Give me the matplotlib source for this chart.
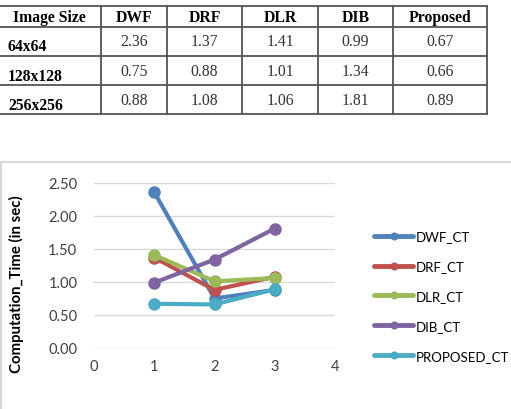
import numpy as np
import matplotlib
matplotlib.use('Agg')
import matplotlib.pyplot as plt

# table data
col_names = ['Image Size', 'DWF', 'DRF', 'DLR', 'DIB', 'Proposed']
row_names = ['64x64', '128x128', '256x256']
dwf = [2.36, 0.75, 0.88]
drf = [1.37, 0.88, 1.08]
dlr = [1.41, 1.01, 1.06]
dib = [0.99, 1.34, 1.81]
proposed = [0.67, 0.66, 0.89]

# chart data
x_vals = [1, 2, 3]
series_names = ['DWF_CT', 'DRF_CT', 'DLR_CT', 'DIB_CT', 'PROPOSED_CT']
series_vals = [dwf, drf, dlr, dib, proposed]
colors = ['#4F81BD', '#C0504D', '#9BBB59', '#8064A2', '#4BACC6']

W, H = 511, 410
fig = plt.figure(figsize=(W / 100, H / 100), dpi=100)

# background axes in pixel coords for the table and chart frame
bg = fig.add_axes([0, 0, 1, 1])
bg.set_xlim(0, W)
bg.set_ylim(H, 0)
bg.axis('off')

# table grid
h_lines = [7, 28, 57, 86, 115]
v_lines = [101, 167, 242, 318, 393, 487]
for y in h_lines:
    bg.plot([0, 487], [y, y], color='#555555', lw=1.3)
for x in v_lines:
    bg.plot([x, x], [7, 115], color='#555555', lw=1.3)

serif = 'Liberation Serif'
col_centers = [49, 134, 204.5, 280, 355.5, 440]
for cx, name in zip(col_centers, col_names):
    bg.text(cx, 18, name, ha='center', va='center', family=serif,
            fontweight='bold', fontsize=11.3)

table_cols = [dwf, drf, dlr, dib, proposed]
row_label_y = [47, 77, 106]
row_value_y = [42, 72, 101]
for i, rname in enumerate(row_names):
    bg.text(8, row_label_y[i], rname, ha='left', va='center', family=serif,
            fontweight='bold', fontsize=11.3)
    for j, col in enumerate(table_cols):
        bg.text(col_centers[j + 1], row_value_y[i], '%.2f' % col[i],
                ha='center', va='center', family=serif, fontsize=11.3,
                color='#333333')

# chart frame
bg.plot([0, W], [163, 163], color='#D9D9D9', lw=1.5)
bg.plot([0.8, 0.8], [163, H], color='#D9D9D9', lw=1.5)

# line chart
ax = fig.add_axes([94 / W, 1 - 349 / H, (335 - 94) / W, (349 - 184) / H])
for name, vals, c in zip(series_names, series_vals, colors):
    ax.plot(x_vals, vals, color=c, lw=3, marker='o', markersize=8,
            label=name, solid_capstyle='round')

ax.set_xlim(0, 4)
ax.set_ylim(0, 2.5)
ax.set_xticks([0, 1, 2, 3, 4])
ax.set_yticks(np.arange(0, 2.51, 0.5))
ax.set_yticklabels(['%.2f' % v for v in np.arange(0, 2.51, 0.5)])
ax.grid(axis='y', color='#D9D9D9', lw=1)
ax.set_axisbelow(True)
for s in ax.spines.values():
    s.set_visible(False)
ax.tick_params(length=0, labelsize=10.5, colors='#404040')
ax.tick_params(axis='x', pad=8)
ax.tick_params(axis='y', pad=12)
for lab in ax.get_xticklabels() + ax.get_yticklabels():
    lab.set_family('Lato')
ax.set_ylabel('Computation_Time (in sec)', family='Lato', fontweight='bold',
              fontsize=10.8, color='#000000')
ax.yaxis.set_label_coords(-70 / 241, 0.39)

leg = fig.legend(loc='center left', bbox_to_anchor=(362 / W, 1 - 297 / H),
                 frameon=False, prop={'family': 'Lato', 'size': 9.5},
                 handlelength=3.0, handletextpad=0.2, labelspacing=1.35,
                 markerscale=0.6)
for line in leg.get_lines():
    line.set_linewidth(3.5)

fig.savefig('out.png', dpi=100)
